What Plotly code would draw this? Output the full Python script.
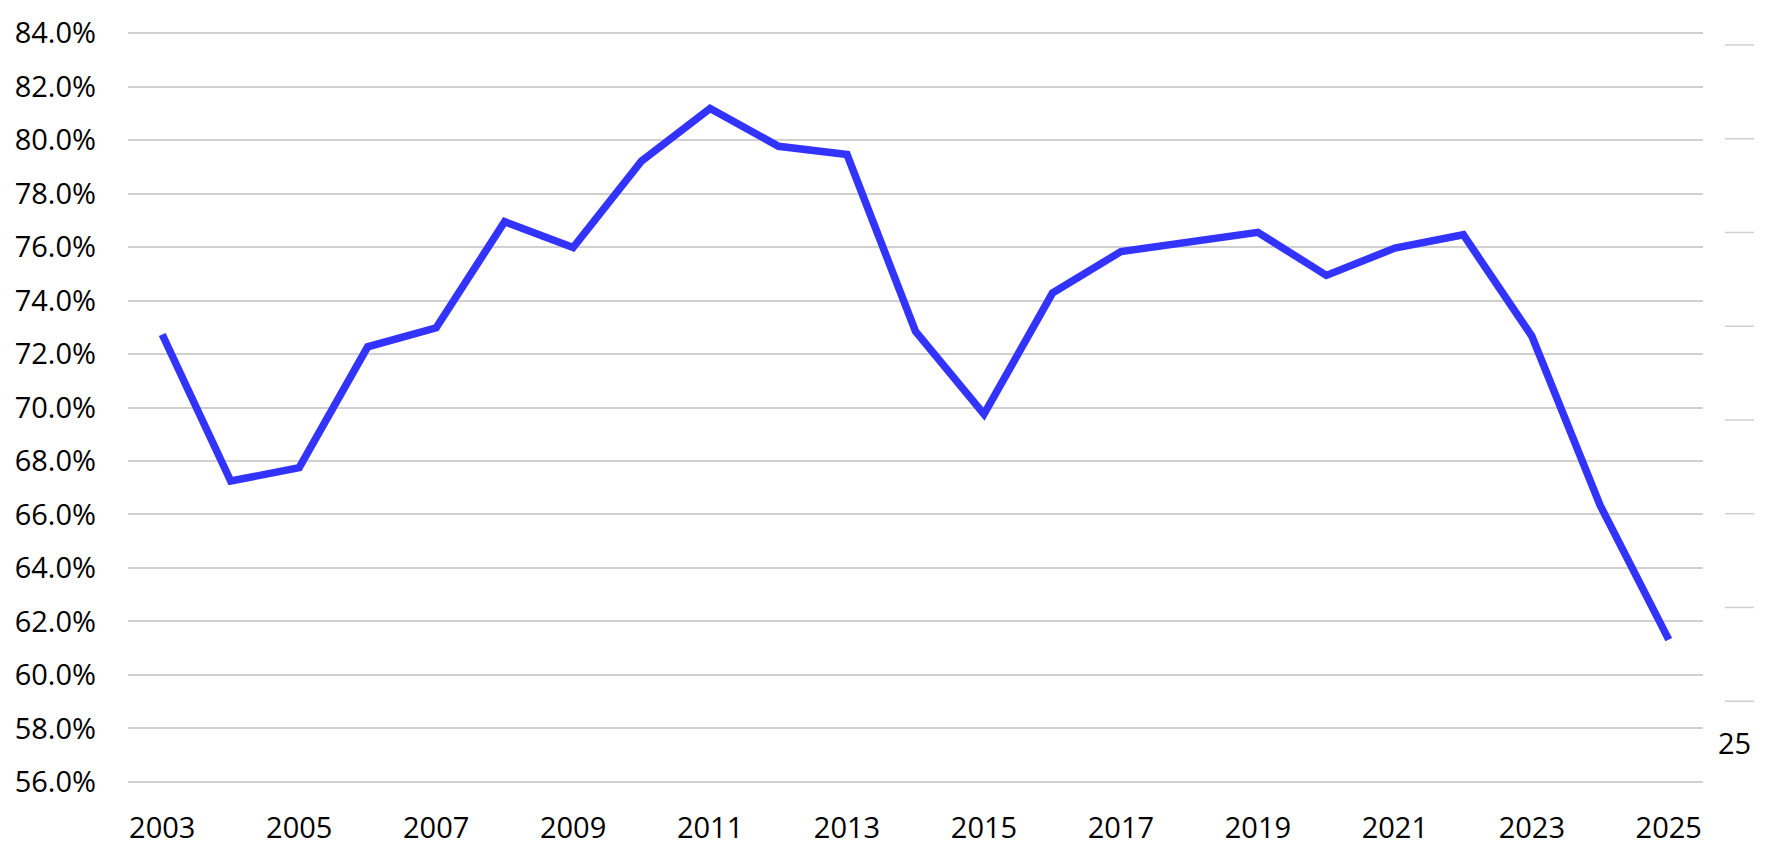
import plotly.graph_objects as go

years = list(range(2003, 2026))
values = [72.73, 67.25, 67.75, 72.27, 72.98, 76.95, 75.98, 79.22, 81.18, 79.77,
          79.46, 72.85, 69.75, 74.28, 75.83, 76.20, 76.55, 74.94, 75.96, 76.46,
          72.67, 66.33, 61.32]
y_ticks = list(range(56, 86, 2))
y_tick_labels = [f"{v:.1f}%" for v in y_ticks]
x_ticks = list(range(2003, 2026, 2))
x_tick_labels = [str(v) for v in x_ticks]

FONT = "Open Sans"
W, H = 1776, 858
ML, MR, MT, MB = 128, 73, 29, 74
PW, PH = W - ML - MR, H - MT - MB


def px_x(px):
    return (px - ML) / PW


def px_y(py):
    return (H - MB - py) / PH


fig = go.Figure()
fig.add_trace(go.Scatter(
    x=years, y=values, mode="lines",
    line=dict(color="#3333FF", width=7.5),
    hoverinfo="skip", showlegend=False,
))

# faint remnants of a neighbouring chart on the right edge
ghost_rows = [43 + 94 * i for i in range(8)]
shapes = [dict(type="line", xref="paper", yref="paper",
               x0=px_x(1725), x1=px_x(1754), y0=px_y(r), y1=px_y(r),
               line=dict(color="#D0D0D0", width=1.5))
          for r in ghost_rows]

eps = 0.08
fig.update_layout(
    width=W, height=H,
    margin=dict(l=ML, r=MR, t=MT, b=MB),
    paper_bgcolor="white", plot_bgcolor="white",
    font=dict(family=FONT, size=29, color="#000000"),
    shapes=shapes,
    annotations=[dict(text="25", xref="paper", yref="paper",
                      x=px_x(1753), y=px_y(742), xanchor="right", yanchor="middle",
                      showarrow=False, font=dict(family=FONT, size=29, color="#000000"))],
    xaxis=dict(range=[2002.5, 2025.5], tickvals=x_ticks, ticktext=x_tick_labels,
               showgrid=False, zeroline=False, showline=False, ticks="",
               ticklabelstandoff=24),
    yaxis=dict(range=[56 - eps, 84 + eps], tickvals=y_ticks, ticktext=y_tick_labels,
               showgrid=True, gridcolor="#D0D0D0", gridwidth=1.5,
               zeroline=False, showline=False, ticks="",
               ticklabelstandoff=31),
)

fig.write_html("out.html")
